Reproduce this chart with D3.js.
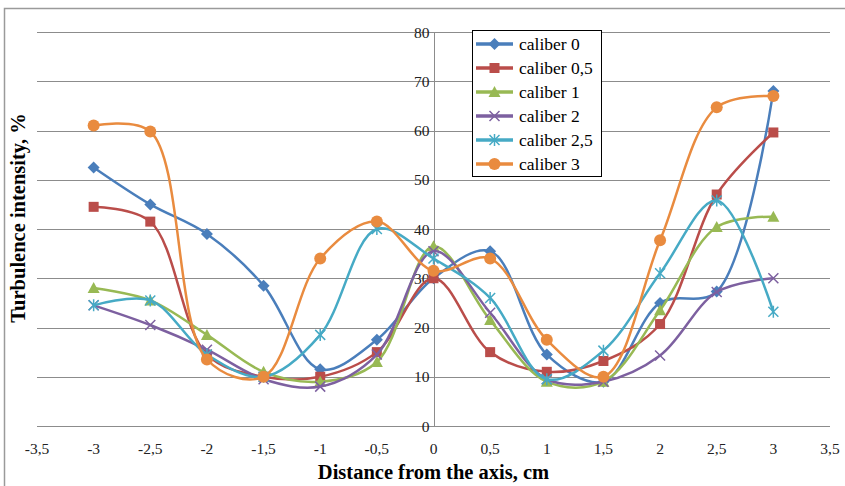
<!DOCTYPE html>
<html lang="en">
<head>
<meta charset="utf-8">
<title>Turbulence intensity</title>
<script src="https://d3js.org/d3.v7.min.js"></script>
<style>
  body { margin: 0; background: #fff; }
  text { font-family: "Liberation Serif", "Times New Roman", serif; }
</style>
</head>
<body>
<div id="chart"></div>
<script>
// distance from the axis, cm
var distances = [-3, -2.5, -2, -1.5, -1, -0.5, 0, 0.5, 1, 1.5, 2, 2.5, 3];

var caliber0  = [52.5, 45, 39, 28.5, 11.5, 17.5, 30, 35.5, 14.5, 9, 25, 27.3, 68];
var caliber05 = [44.5, 41.5, 14.5, 10, 10, 15, 30, 15, 11, 13.2, 20.7, 47, 59.6];
var caliber1  = [28, 25.5, 18.5, 11, 9, 13, 36.5, 21.5, 9, 9, 23.5, 40.4, 42.5];
var caliber2  = [24.5, 20.5, 15.5, 9.5, 8, 14.5, 35.5, 23, 9.5, 9, 14.3, 27.2, 30];
var caliber25 = [24.5, 25.5, 14.5, 10, 18.5, 40, 34, 26, 9.5, 15.3, 31, 45.8, 23.2];
var caliber3  = [61, 59.8, 13.5, 10, 34, 41.5, 31.5, 34, 17.5, 10, 37.7, 64.7, 67];

var seriesNames = ["caliber 0", "caliber 0,5", "caliber 1", "caliber 2", "caliber 2,5", "caliber 3"];
var seriesValues = [caliber0, caliber05, caliber1, caliber2, caliber25, caliber3];
var colors = ["#4A7EBB", "#BA4D4A", "#98B954", "#7D60A0", "#46AAC5", "#E98B3F"];
var markers = ["diamond", "square", "triangle", "cross", "asterisk", "circle"];

var xTicks = [-3.5, -3, -2.5, -2, -1.5, -1, -0.5, 0, 0.5, 1, 1.5, 2, 2.5, 3, 3.5];
var yTicks = [0, 10, 20, 30, 40, 50, 60, 70, 80];

var w = 845, h = 486;
var margin = {top: 32, right: 15, bottom: 60, left: 37};

var svg = d3.select("#chart").append("svg")
  .attr("width", w)
  .attr("height", h);

// chart frame (only top and left edges visible)
svg.append("path")
  .attr("d", "M4.5," + h + " V8.5 H" + w)
  .attr("fill", "none")
  .attr("stroke", "#9a9a9a")
  .attr("stroke-width", 1.5);

var xScale = d3.scaleLinear().domain([-3.5, 3.5]).range([margin.left, w - margin.right]);
var yScale = d3.scaleLinear().domain([0, 80]).range([h - margin.bottom, margin.top]);

// horizontal gridlines
svg.append("g")
  .selectAll("line")
  .data(yTicks)
  .enter().append("line")
  .attr("x1", xScale(-3.5))
  .attr("x2", xScale(3.5))
  .attr("y1", function(d) { return Math.round(yScale(d)) + 0.5; })
  .attr("y2", function(d) { return Math.round(yScale(d)) + 0.5; })
  .attr("stroke", "#8c8c8c")
  .attr("stroke-width", 1);

// vertical axis at x = 0
svg.append("line")
  .attr("x1", Math.round(xScale(0)) + 0.5)
  .attr("x2", Math.round(xScale(0)) + 0.5)
  .attr("y1", yScale(80))
  .attr("y2", yScale(0))
  .attr("stroke", "#8c8c8c");

// y tick labels
svg.append("g")
  .selectAll("text")
  .data(yTicks)
  .enter().append("text")
  .attr("x", xScale(0) - 4)
  .attr("y", function(d) { return yScale(d) + 5.5; })
  .attr("text-anchor", "end")
  .attr("font-size", 15.5)
  .attr("fill", "#222")
  .text(function(d) { return d; });

// x tick labels
svg.append("g")
  .selectAll("text")
  .data(xTicks)
  .enter().append("text")
  .attr("x", function(d) { return xScale(d); })
  .attr("y", yScale(0) + 28)
  .attr("text-anchor", "middle")
  .attr("font-size", 15.5)
  .attr("fill", "#222")
  .text(function(d) { return String(d).replace(".", ","); });

// axis titles
svg.append("text")
  .attr("x", xScale(0))
  .attr("y", 479)
  .attr("text-anchor", "middle")
  .attr("font-size", 20.5)
  .attr("font-weight", "bold")
  .text("Distance from the axis, cm");

svg.append("text")
  .attr("transform", "translate(25," + 218 + ") rotate(-90)")
  .attr("text-anchor", "middle")
  .attr("font-size", 20.5)
  .attr("font-weight", "bold")
  .text("Turbulence intensity, %");

// marker drawing
function drawMarker(g, type, color, cx, cy) {
  if (type == "diamond") {
    g.append("path")
      .attr("d", "M" + cx + "," + (cy - 6) + " L" + (cx + 6) + "," + cy + " L" + cx + "," + (cy + 6) + " L" + (cx - 6) + "," + cy + " Z")
      .attr("fill", color);
  } else if (type == "square") {
    g.append("rect")
      .attr("x", cx - 5).attr("y", cy - 5)
      .attr("width", 10).attr("height", 10)
      .attr("fill", color);
  } else if (type == "triangle") {
    g.append("path")
      .attr("d", "M" + cx + "," + (cy - 6) + " L" + (cx + 6) + "," + (cy + 5) + " L" + (cx - 6) + "," + (cy + 5) + " Z")
      .attr("fill", color);
  } else if (type == "cross") {
    g.append("path")
      .attr("d", "M" + (cx - 5) + "," + (cy - 5) + " L" + (cx + 5) + "," + (cy + 5) + " M" + (cx - 5) + "," + (cy + 5) + " L" + (cx + 5) + "," + (cy - 5))
      .attr("stroke", color).attr("stroke-width", 1.5).attr("fill", "none");
  } else if (type == "asterisk") {
    g.append("path")
      .attr("d", "M" + (cx - 5) + "," + (cy - 5) + " L" + (cx + 5) + "," + (cy + 5) + " M" + (cx - 5) + "," + (cy + 5) + " L" + (cx + 5) + "," + (cy - 5) + " M" + cx + "," + (cy - 6) + " L" + cx + "," + (cy + 6))
      .attr("stroke", color).attr("stroke-width", 1.5).attr("fill", "none");
  } else {
    g.append("circle")
      .attr("cx", cx).attr("cy", cy).attr("r", 6)
      .attr("fill", color);
  }
}

// series lines, smoothed
var line = d3.line()
  .x(function(d) { return xScale(d.x); })
  .y(function(d) { return yScale(d.y); })
  .curve(d3.curveCatmullRom.alpha(0.5));

for (var s = 0; s < seriesValues.length; s++) {
  var pts = distances.map(function(x, i) { return {x: x, y: seriesValues[s][i]}; });
  var g = svg.append("g").attr("class", "series");
  g.append("path")
    .datum(pts)
    .attr("d", line)
    .attr("fill", "none")
    .attr("stroke", colors[s])
    .attr("stroke-width", 2.5);
  for (var i = 0; i < pts.length; i++) {
    drawMarker(g, markers[s], colors[s], xScale(pts[i].x), yScale(pts[i].y));
  }
}

// legend
var legend = svg.append("g");
legend.append("rect")
  .attr("x", 472.5).attr("y", 30.5)
  .attr("width", 129).attr("height", 146)
  .attr("fill", "#fff")
  .attr("stroke", "#000")
  .attr("stroke-width", 1);

for (var k = 0; k < seriesNames.length; k++) {
  var ly = 44 + k * 24;
  legend.append("line")
    .attr("x1", 476).attr("x2", 513)
    .attr("y1", ly).attr("y2", ly)
    .attr("stroke", colors[k])
    .attr("stroke-width", 3.5);
  drawMarker(legend, markers[k], colors[k], 494.5, ly);
  legend.append("text")
    .attr("x", 519)
    .attr("y", ly + 5.5)
    .attr("font-size", 17.5)
    .text(seriesNames[k]);
}
</script>
</body>
</html>
